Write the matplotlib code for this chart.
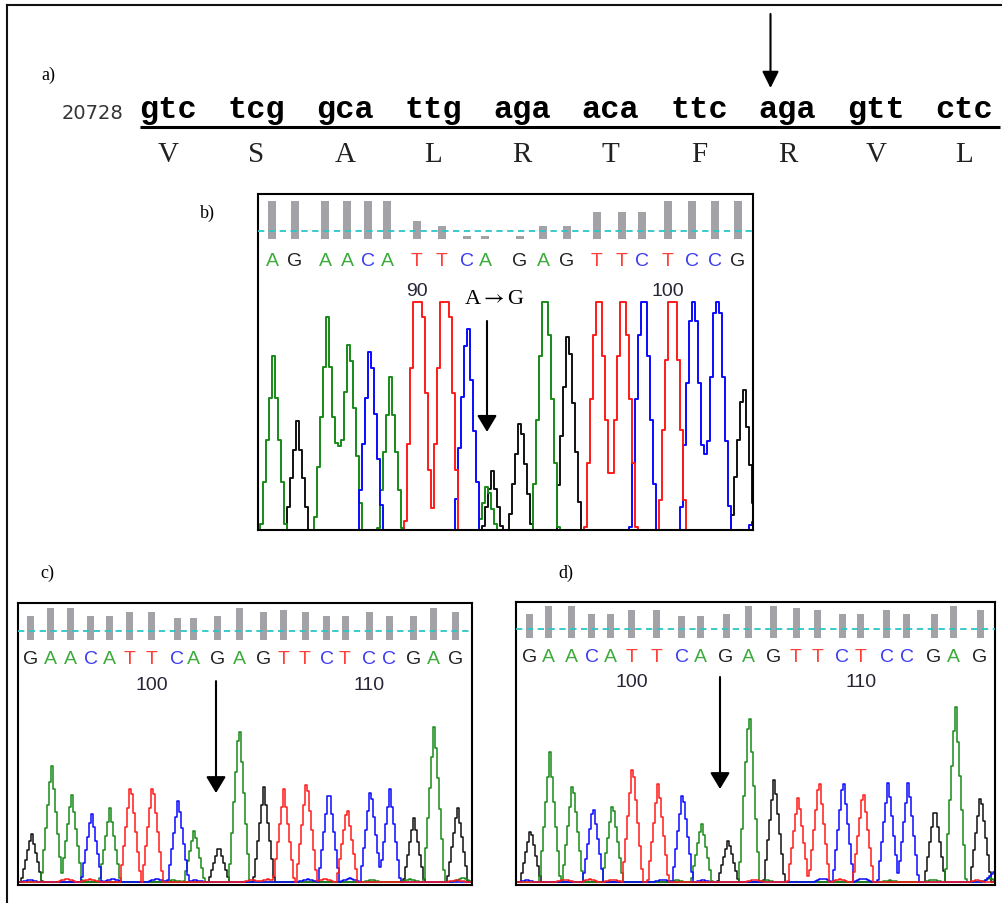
import numpy as np
import matplotlib
matplotlib.use('Agg')
import matplotlib.pyplot as plt

plt.rcParams['mathtext.fontset'] = 'stix'

W, H = 1003, 904

# ---- a) reference sequence ----
START_POS = '20728'
CODONS = ['gtc', 'tcg', 'gca', 'ttg', 'aga', 'aca', 'ttc', 'aga', 'gtt', 'ctc']
AMINO = ['V', 'S', 'A', 'L', 'R', 'T', 'F', 'R', 'V', 'L']
MUT_CODON = 7

# ---- b) patient chromatogram (x = scan, y = signal) ----
B_BASES = 'AGAACATTCAGAGTTCTCCG'
B_CALL_POS = [14, 37, 67, 89, 110, 129, 159, 184, 209, 227, 262, 285, 309, 339, 364, 384, 410, 434, 457, 480]
B_QUAL = [38, 38, 38, 38, 38, 38, 18, 13, 3, 3, 3, 13, 13, 27, 27, 27, 38, 38, 38, 38]
B_TICKS = {6: '90', 16: '100'}
B_PEAK_POS = [15, 39, 69, 91, 112, 132, 160, 187, 209, 229, 234, 262, 287, 310, 340, 365, 385, 414, 435, 459, 485, 494]
B_PEAK_H = [203, 138, 242, 230, 222, 182, 370, 370, 247, 77, 88, 145, 310, 238, 310, 310, 310, 340, 300, 310, 182, 40]
B_PEAK_CH = 'AGAACATTCAGGAGTTCTCCGC'
B_MUT = 229

# ---- c) chromatogram ----
C_BASES = 'GAACATTCAGAGTTCTCCGAG'
C_CALL_POS = [12.7, 32.7, 52.7, 72.7, 91.3, 111.3, 133.7, 159.3, 175.3, 199.3, 221.3, 245.3, 265.3, 287, 308.7, 327,
              351.3, 371.3, 395.3, 415.3, 437.7]
C_QUAL = [24, 32, 32, 24, 24, 28, 28, 22, 22, 24, 32, 28, 30, 28, 24, 24, 28, 24, 24, 32, 28]
C_TICKS = {6: '100', 16: '110'}
C_PEAK_POS = [13.7, 33.7, 53.7, 73.7, 92, 112.7, 134.7, 160.3, 176.3, 201, 221.3, 246, 266, 288.7, 311, 329.3,
              352.7, 372, 396, 416.3, 439.7]
C_PEAK_H = [49, 119, 90, 70, 74, 100, 100, 83, 53, 36, 161, 95, 93, 104, 95, 76, 95, 93, 64, 160, 76]
C_PEAK_CH = 'GAACATTCAGAGTTCTCCGAG'
C_NOISE_POS = [12, 49, 72, 95, 139, 155, 177, 234, 250, 290, 307, 332, 354, 392, 439, 445]
C_NOISE_H = [2, 3, 3, 3, 3, 2, 2, 2, 3, 3, 3, 4, 2, 3, 2, 4]
C_NOISE_CH = 'CTTCCACTTCTCAATA'
C_MUT = 198

# ---- d) chromatogram ----
D_BASES = 'GAACATTCAGAGTTCTCCGAG'
D_CALL_POS = [13.3, 32.3, 55, 75.7, 94.7, 115.7, 140.7, 165.7, 184.7, 210, 232.3, 257.3, 280, 301.7, 326.3, 344.7,
              370.7, 390.7, 418, 437.3, 464]
D_QUAL = [24, 32, 32, 24, 24, 28, 28, 22, 22, 24, 32, 32, 30, 28, 24, 24, 28, 24, 24, 32, 28]
D_TICKS = {5: '100', 15: '110'}
D_PEAK_POS = [14.7, 34, 56.7, 77.3, 96.7, 116.7, 142.3, 166.7, 185.7, 212.3, 233.3, 258.3, 282.3, 303.3, 327.3,
              347.3, 372.3, 392.3, 419, 439.7, 464.7, 478]
D_PEAK_H = [54, 130, 102, 78, 81, 120, 101, 92, 60, 43, 175, 105, 87, 105, 105, 94, 102, 102, 77, 180, 89, 10]
D_PEAK_CH = 'GAACATTCAGAGTTCTCCGAGC'
D_NOISE_POS = [11, 49, 74, 97, 147, 161, 187, 239, 251, 307, 324, 347, 374, 417, 461, 474]
D_NOISE_H = [2, 3, 3, 3, 3, 2, 2, 3, 2, 4, 3, 4, 2, 3, 2, 4]
D_NOISE_CH = 'CTTTCACTACTCAATA'
D_MUT = 204

TRACE_COL = {'A': '#178a17', 'C': '#0a0aff', 'G': '#111111', 'T': '#ff1a1a'}
CALL_COL = {'A': '#3cab3c', 'C': '#3c3cf0', 'G': '#222222', 'T': '#ff4038'}
SANS = ['Liberation Sans', 'DejaVu Sans']
SERIF = ['Liberation Serif', 'DejaVu Serif']
MONO = ['Liberation Mono', 'DejaVu Sans Mono']

fig = plt.figure(figsize=(W / 100, H / 100), dpi=100)


def px_axes(x0, y0, x1, y1):
    return fig.add_axes([x0 / W, 1 - y1 / H, (x1 - x0) / W, (y1 - y0) / H])


def pt(px):
    return px * 0.72


def draw_traces(ax, pos, hts, chans, halfw, step, xmax, lw, cap=None):
    # triangular peaks, one curve per dye
    xs = np.arange(0, xmax + step, step)
    for ch in 'GACT':
        y = np.zeros_like(xs, dtype=float)
        for p, h, c in zip(pos, hts, chans):
            if c == ch:
                y += h * np.clip(1 - np.abs(xs - p) / halfw, 0, None)
        if cap is not None:
            y = np.minimum(y, cap)
        ax.plot(xs, y, drawstyle='steps-mid', color=TRACE_COL[ch], lw=lw)


def panel(box, xmax, ylim):
    ax = px_axes(*box)
    ax.set_xlim(0, xmax)
    ax.set_ylim(*ylim)
    ax.set_xticks([])
    ax.set_yticks([])
    for s in ax.spines.values():
        s.set_linewidth(1.5)
        s.set_color('black')
    return ax


def header(x0, x1, ybot, xmax, pos, qual, bases, ticks, thr, barw, let_dy, num_dy):
    hx = px_axes(x0, ybot - 40, x1, ybot)
    hx.set_xlim(0, xmax)
    hx.set_ylim(0, 40)
    hx.axis('off')
    hx.bar(pos, qual, width=barw, color='#a2a2a7', zorder=1)
    hx.axhline(thr, color='#2cc6c6', lw=1.3, ls=(0, (3.5, 2.5)), zorder=2)
    for p, b in zip(pos, bases):
        hx.annotate(b, xy=(p, 0), xycoords=('data', 'axes fraction'), xytext=(0, -pt(let_dy)),
                    textcoords='offset points', ha='center', va='baseline', fontsize=14,
                    family=SANS, color=CALL_COL[b], annotation_clip=False)
    for i, t in ticks.items():
        hx.annotate(t, xy=(pos[i], 0), xycoords=('data', 'axes fraction'), xytext=(0, -pt(num_dy)),
                    textcoords='offset points', ha='center', va='baseline', fontsize=14,
                    family=SANS, color='#262636', annotation_clip=False)
    return hx


def mut_arrow(ax, x, ytop, ybot):
    ax.annotate('', xy=(x, ybot), xycoords=('data', 'axes fraction'), xytext=(x, ytop),
                textcoords=('data', 'axes fraction'),
                arrowprops=dict(arrowstyle='-|>,head_length=0.5,head_width=0.3', mutation_scale=20,
                                lw=1.5, color='black', shrinkA=0, shrinkB=0), annotation_clip=False)


# overlay in pixel coordinates for panel a) and labels
ov = fig.add_axes([0, 0, 1, 1])
ov.set_xlim(0, W)
ov.set_ylim(H, 0)
ov.axis('off')
ov.plot([7, 7], [6, H], color='#111111', lw=1.5)
ov.plot([7, W], [6, 6], color='#111111', lw=1.5)

ov.text(48, 75, 'a)', family=SERIF, fontsize=13, ha='center', va='center')
ov.text(123, 119, START_POS, family='DejaVu Sans', fontsize=14, ha='right', va='baseline', color='#333333')
codon_x = [168 + i * 88.5 for i in range(len(CODONS))]
for cx, cod, aa in zip(codon_x, CODONS, AMINO):
    ov.text(cx, 118, cod, family=MONO, fontweight='bold', fontsize=23, ha='center', va='baseline')
    ov.text(cx, 162, aa, family=SERIF, fontsize=21, ha='center', va='baseline', color='#222222')
ov.plot([140, 1000], [128, 128], color='black', lw=2.2, solid_capstyle='butt')
ax_ = codon_x[MUT_CODON] - 17
ov.annotate('', xy=(ax_, 89), xytext=(ax_, 15),
            arrowprops=dict(arrowstyle='-|>,head_length=0.5,head_width=0.25', mutation_scale=20,
                            lw=1.5, color='black', shrinkA=0, shrinkB=0))
ov.text(207, 213, 'b)', family=SERIF, fontsize=13, ha='center', va='center')
ov.text(47, 573, 'c)', family=SERIF, fontsize=13, ha='center', va='center')
ov.text(566, 573, 'd)', family=SERIF, fontsize=13, ha='center', va='center')

# ---- b ----
axb = panel((258, 195, 753, 531), 495, (29, 365))
draw_traces(axb, B_PEAK_POS, B_PEAK_H, B_PEAK_CH, 14.5, 3, 495, 1.4, cap=257)
header(258, 753, 240, 495, B_CALL_POS, B_QUAL, B_BASES, B_TICKS, 8, 8, 26.5, 56)
axb.annotate(r'A$\rightarrow$G', xy=(236, 0.69), xycoords=('data', 'axes fraction'), ha='center', va='center',
             fontsize=16, family=SERIF)
mut_arrow(axb, B_MUT, 0.622, 0.292)

# ---- c ----
axc = panel((18, 604, 472, 886), 454, (-3, 279))
draw_traces(axc, C_PEAK_POS + C_NOISE_POS, C_PEAK_H + C_NOISE_H, C_PEAK_CH + C_NOISE_CH, 10.5, 2, 454, 1.1)
header(18, 472, 640.7, 454, C_CALL_POS, C_QUAL, C_BASES, C_TICKS, 9, 7, 23.3, 48.8)
mut_arrow(axc, C_MUT, 0.723, 0.326)

# ---- d ----
axd = panel((516, 603, 995, 886), 479, (-2.7, 280.3))
draw_traces(axd, D_PEAK_POS + D_NOISE_POS, D_PEAK_H + D_NOISE_H, D_PEAK_CH + D_NOISE_CH, 10.5, 2, 479, 1.1)
header(516, 995, 639.3, 479, D_CALL_POS, D_QUAL, D_BASES, D_TICKS, 9, 7, 22.7, 48.2)
mut_arrow(axd, D_MUT, 0.735, 0.339)

fig.savefig('out.png', dpi=100)
